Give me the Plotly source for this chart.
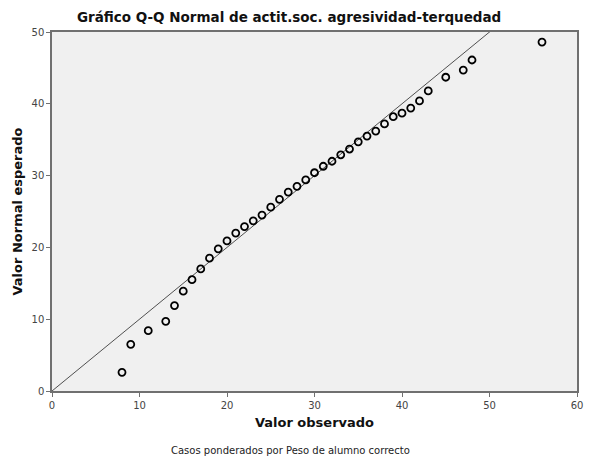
import plotly.graph_objects as go

observed = [8, 9, 11, 13, 14, 15, 16, 17, 18, 19, 20, 21, 22, 23, 24, 25, 26, 27, 28, 29,
            30, 31, 32, 33, 34, 35, 36, 37, 38, 39, 40, 41, 42, 43, 45, 47, 48, 56]
expected = [2.6, 6.5, 8.4, 9.7, 11.9, 13.9, 15.5, 17.0, 18.5, 19.8, 20.9, 22.0, 22.9, 23.7,
            24.5, 25.6, 26.7, 27.7, 28.5, 29.4, 30.4, 31.3, 32.0, 32.9, 33.7, 34.7, 35.5,
            36.2, 37.2, 38.2, 38.7, 39.4, 40.4, 41.8, 43.7, 44.7, 46.1, 48.6]
ref_line = [0, 60]
x_ticks = [0, 10, 20, 30, 40, 50, 60]
y_ticks = [0, 10, 20, 30, 40, 50]

fig = go.Figure()
fig.add_trace(go.Scatter(x=ref_line, y=ref_line, mode="lines",
                         line=dict(color="#505050", width=1), hoverinfo="skip"))
fig.add_trace(go.Scatter(x=observed, y=expected, mode="markers", cliponaxis=False,
                         marker=dict(symbol="circle-open", size=7, color="black",
                                     line=dict(width=1.8, color="black"))))

fig.update_layout(
    width=590, height=462,
    margin=dict(l=52, r=13, t=32, b=71, autoexpand=False),
    paper_bgcolor="white", plot_bgcolor="#f0f0f0",
    showlegend=False,
    font=dict(family="DejaVu Sans", color="#222"),
    title=dict(text="<b>Gráfico Q-Q Normal de actit.soc. agresividad-terquedad</b>",
               x=0.49, xanchor="center", y=0.963, yanchor="middle",
               font=dict(size=13.5, color="#111")),
    annotations=[dict(text="Casos ponderados por Peso de alumno correcto",
                      xref="paper", yref="paper", x=0.455, y=-0.167,
                      xanchor="center", yanchor="middle", showarrow=False,
                      font=dict(size=10, color="#222"))],
)
fig.update_xaxes(range=[0, 60], tickvals=x_ticks, showgrid=False, zeroline=False,
                 automargin=False,
                 showline=True, linecolor="#707070", linewidth=1.5, mirror=True,
                 ticks="outside", ticklen=4, tickcolor="#707070",
                 tickfont=dict(size=10, color="#444"),
                 title=dict(text="<b>Valor observado</b>", font=dict(size=13, color="#111"),
                            standoff=8))
fig.update_yaxes(range=[0, 50], tickvals=y_ticks, showgrid=False, zeroline=False,
                 automargin=False,
                 showline=True, linecolor="#707070", linewidth=1.5, mirror=True,
                 ticks="outside", ticklen=4, tickcolor="#707070",
                 tickfont=dict(size=10, color="#444"),
                 title=dict(text="<b>Valor Normal esperado</b>", font=dict(size=13, color="#111"),
                            standoff=6))

fig.write_html("out.html", config={"displayModeBar": False},
               post_script="document.body.style.margin='0';document.body.style.overflow='hidden';")
